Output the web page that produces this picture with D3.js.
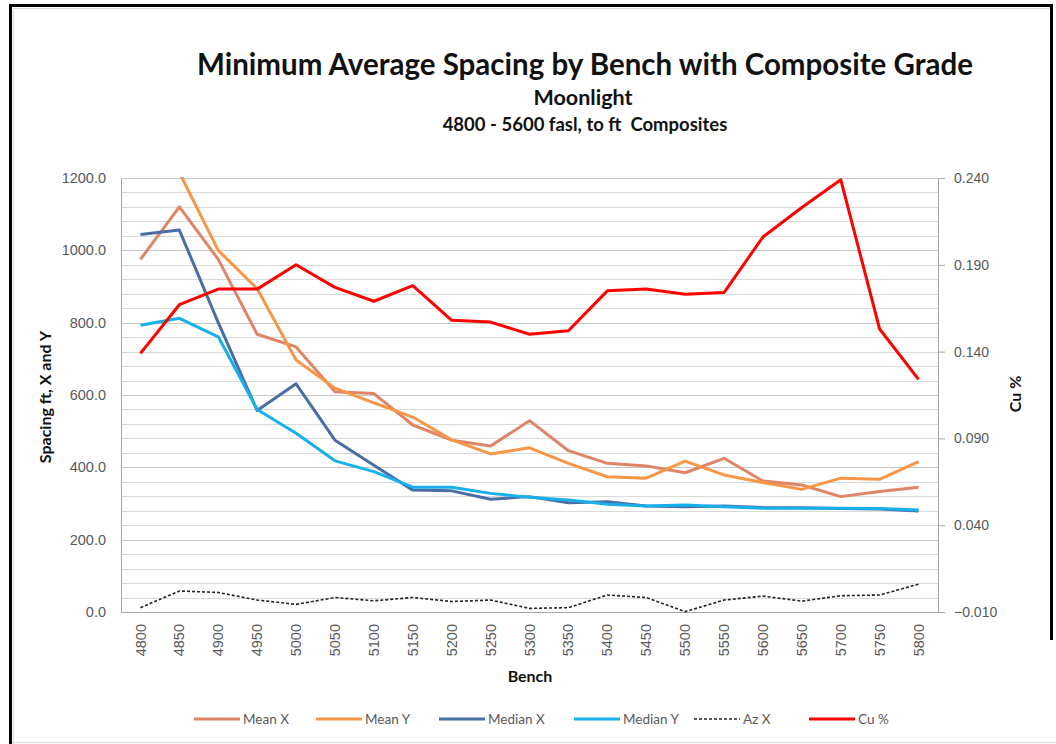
<!DOCTYPE html>
<html>
<head>
<meta charset="utf-8">
<script src="https://cdn.jsdelivr.net/npm/d3@7"></script>
<style>
  body { margin: 0; background: #fff; }
  svg { display: block; font-family: Lato, 'Open Sans', sans-serif; }
</style>
</head>
<body>
<div id="chart"></div>
<script>
// Chart data
const benches = ['4800', '4850', '4900', '4950', '5000', '5050', '5100', '5150', '5200', '5250', '5300',
  '5350', '5400', '5450', '5500', '5550', '5600', '5650', '5700', '5750', '5800'];
const meanX   = [975, 1120, 975, 768, 733, 609, 604, 517, 475, 459, 529, 446, 411, 404, 385, 425, 362, 351, 319, 333, 345];
const meanY   = [1380, 1215, 1000, 894, 697, 619, 578, 539, 476, 437, 454, 411, 374, 370, 417, 379, 358, 339, 370, 367, 416];
const medianX = [1044, 1056, 800, 557, 631, 475, 406, 337, 335, 312, 319, 302, 305, 293, 291, 293, 289, 288, 286, 285, 279];
const medianY = [793, 812, 761, 560, 494, 418, 388, 345, 345, 328, 317, 310, 298, 293, 296, 291, 287, 287, 287, 286, 282];
const azX     = [12, 58, 54, 33, 21, 40, 31, 40, 29, 33, 10, 12, 47, 40, 1, 33, 44, 30, 45, 47, 77];
const cuPct   = [0.139, 0.167, 0.176, 0.176, 0.190, 0.177, 0.169, 0.178, 0.158, 0.157, 0.150,
  0.152, 0.175, 0.176, 0.173, 0.174, 0.206, 0.223, 0.239, 0.153, 0.124];

const leftTicks = [0, 200, 400, 600, 800, 1000, 1200];
const rightTicks = [-0.010, 0.040, 0.090, 0.140, 0.190, 0.240];

const series = [
  {name: 'Mean X', values: meanX, color: '#df8466', axis: 'left'},
  {name: 'Mean Y', values: meanY, color: '#f79646', axis: 'left'},
  {name: 'Median X', values: medianX, color: '#4a6ea3', axis: 'left'},
  {name: 'Median Y', values: medianY, color: '#17b0ea', axis: 'left'},
  {name: 'Az X', values: azX, color: '#222', axis: 'left', dash: '3,2', width: 1.6},
  {name: 'Cu %', values: cuPct, color: '#ff0000', axis: 'right'}
];

const W = 1056, H = 744;
const margin = {top: 178, right: 118, bottom: 132, left: 121};
const width = W - margin.left - margin.right;
const height = H - margin.top - margin.bottom;

const svg = d3.select('#chart').append('svg')
  .attr('width', W)
  .attr('height', H);

// outer frame
svg.append('path')
  .attr('d', 'M10.5,744 V5.5 H1051.5 V640')
  .attr('fill', 'none')
  .attr('stroke', '#000')
  .attr('stroke-width', 3);
svg.append('path')
  .attr('d', 'M13.5,744 V8.5 H1049.5')
  .attr('fill', 'none')
  .attr('stroke', '#d8d8d8')
  .attr('stroke-width', 1);
svg.append('line')
  .attr('x1', 12).attr('x2', 1056).attr('y1', 742.5).attr('y2', 742.5)
  .attr('stroke', '#e2e2e2').attr('stroke-width', 1.5);

// titles
svg.append('text').attr('x', 585).attr('y', 75)
  .attr('text-anchor', 'middle').attr('font-size', 29.5).attr('font-weight', 'bold')
  .attr('fill', '#111').text('Minimum Average Spacing by Bench with Composite Grade');
svg.append('text').attr('x', 583).attr('y', 105)
  .attr('text-anchor', 'middle').attr('font-size', 21.5).attr('font-weight', 'bold')
  .attr('fill', '#111').text('Moonlight');
svg.append('text').attr('x', 585).attr('y', 131)
  .attr('text-anchor', 'middle').attr('font-size', 18.5).attr('font-weight', 'bold')
  .style('white-space', 'pre')
  .attr('fill', '#111').text('4800 - 5600 fasl, to ft  Composites');

const g = svg.append('g')
  .attr('transform', `translate(${margin.left}, ${margin.top})`);

const xScale = d3.scaleBand()
  .domain(benches)
  .range([0, width]);
const xc = d => xScale(d) + xScale.bandwidth() / 2;

const yLeft = d3.scaleLinear().domain([0, 1200]).range([height, 0]);
const yRight = d3.scaleLinear().domain([-0.010, 0.240]).range([height, 0]);

// gridlines every 40
g.append('g')
  .selectAll('line')
  .data(d3.range(40, 1201, 40))
  .enter()
  .append('line')
  .attr('x1', 0).attr('x2', width)
  .attr('y1', d => Math.round(yLeft(d)) + 0.5)
  .attr('y2', d => Math.round(yLeft(d)) + 0.5)
  .attr('stroke', d => d % 200 === 0 ? '#c8c8c8' : '#dadada')
  .attr('stroke-width', 1.2);

// left axis
const leftAxis = g.append('g')
  .call(d3.axisLeft(yLeft).tickValues(leftTicks).tickFormat(d3.format('.1f')).tickSize(0).tickPadding(15));
leftAxis.select('.domain').attr('stroke', '#a6a6a6');
leftAxis.selectAll('text').attr('font-size', 14.5).attr('fill', '#595959');

// right axis
const rightAxis = g.append('g')
  .attr('transform', `translate(${width}, 0)`)
  .call(d3.axisRight(yRight).tickValues(rightTicks).tickFormat(d3.format('.3f')).tickSize(7).tickPadding(9));
rightAxis.select('.domain').attr('stroke', '#a6a6a6');
rightAxis.selectAll('line').attr('stroke', '#a6a6a6');
rightAxis.selectAll('text').attr('font-size', 14).attr('fill', '#595959');

// bottom axis
const bottomAxis = g.append('g')
  .attr('transform', `translate(0, ${height})`)
  .call(d3.axisBottom(xScale).tickSize(0).tickPadding(0));
bottomAxis.select('.domain').attr('stroke', '#a6a6a6');
bottomAxis.selectAll('text')
  .attr('font-size', 14.5)
  .attr('fill', '#595959')
  .attr('transform', 'rotate(-90)')
  .attr('text-anchor', 'end')
  .attr('x', -12)
  .attr('y', 0)
  .attr('dy', '0.35em');

// axis titles
svg.append('text')
  .attr('transform', 'translate(51, 397) rotate(-90)')
  .attr('text-anchor', 'middle').attr('font-size', 16).attr('font-weight', 'bold')
  .attr('fill', '#111').text('Spacing ft, X and Y');
svg.append('text')
  .attr('transform', 'translate(1021, 394) rotate(-90)')
  .attr('text-anchor', 'middle').attr('font-size', 16).attr('font-weight', 'bold')
  .attr('fill', '#111').text('Cu %');
svg.append('text')
  .attr('x', 530).attr('y', 682)
  .attr('text-anchor', 'middle').attr('font-size', 16).attr('font-weight', 'bold')
  .attr('fill', '#111').text('Bench');

// lines, clipped to plot area
g.append('clipPath').attr('id', 'plotClip')
  .append('rect').attr('x', 0).attr('y', -1).attr('width', width).attr('height', height + 2);

const lines = g.append('g').attr('clip-path', 'url(#plotClip)');
series.forEach(s => {
  const yS = s.axis === 'left' ? yLeft : yRight;
  const line = d3.line()
    .x((d, i) => xc(benches[i]))
    .y(d => yS(d));
  lines.append('path')
    .datum(s.values)
    .attr('fill', 'none')
    .attr('stroke', s.color)
    .attr('stroke-width', s.width || 3)
    .attr('stroke-linejoin', 'round')
    .attr('stroke-dasharray', s.dash || null)
    .attr('d', line);
});

// legend
const legendX = [194, 316, 439, 574, 694, 809];
const legend = svg.append('g').attr('transform', 'translate(0, 719)');
series.forEach((s, i) => {
  const item = legend.append('g').attr('transform', `translate(${legendX[i]}, 0)`);
  item.append('line')
    .attr('x1', 0).attr('x2', 46).attr('y1', 0).attr('y2', 0)
    .attr('stroke', s.color)
    .attr('stroke-width', s.width || 3)
    .attr('stroke-dasharray', s.dash || null);
  item.append('text')
    .attr('x', 49).attr('y', 0).attr('dy', '0.35em')
    .attr('font-size', 13.5).attr('fill', '#595959')
    .text(s.name);
});
</script>
</body>
</html>
